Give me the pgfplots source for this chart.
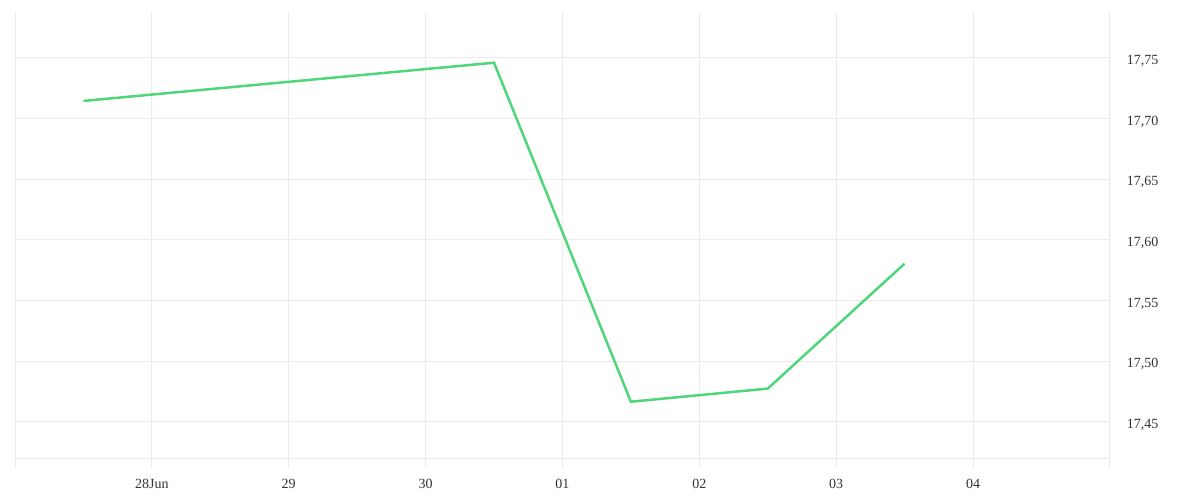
\documentclass[border=0pt]{standalone}
\usepackage{pgfplots}
\pgfplotsset{compat=1.18}
\usepackage{fontspec}
\setmainfont{Liberation Serif}
\definecolor{gridc}{HTML}{EBEBEB}
\definecolor{linec}{HTML}{4FD67A}
\definecolor{txt}{HTML}{333333}
\begin{document}
\fontsize{14bp}{16bp}\selectfont
\begin{tikzpicture}
\path[use as bounding box] (0,0) rectangle (1200bp,500bp);
\begin{axis}[
  at={(15bp,42bp)}, anchor=south west,
  scale only axis, width=1095bp, height=446bp,
  xmin=-1, xmax=7, ymin=17.4203, ymax=17.7879,
  axis x line*=bottom,
  axis line style={draw=gridc, line width=1bp},
  xtick={-1,0,1,2,3,4,5,6,7},
  xticklabels={,28Jun,29,30,01,02,03,04,},
  ytick={17.45,17.50,17.55,17.60,17.65,17.70,17.75},
  yticklabel pos=right,
  grid=major,
  major grid style={draw=gridc, line width=1bp},
  tick align=outside,
  major tick length=10bp,
  xtick style={draw=gridc, line width=1bp},
  ytick style={draw=none},
  /pgf/number format/.cd, fixed, fixed zerofill, precision=2, use comma, assume math mode=true,
  /pgfplots/.cd,
  ticklabel style={font=\fontsize{14bp}{16bp}\selectfont, text=txt},
  yticklabel style={anchor=west, xshift=2bp, yshift=-3bp},
  xticklabel style={yshift=-6bp},
  clip=false,
]
\addplot[linec, line width=2.5bp, no marks] coordinates {
  (-0.5,17.7146) (2.5,17.7461) (3.5,17.4667) (4.5,17.4775) (5.5,17.5805)
};
\end{axis}
\end{tikzpicture}
\end{document}
